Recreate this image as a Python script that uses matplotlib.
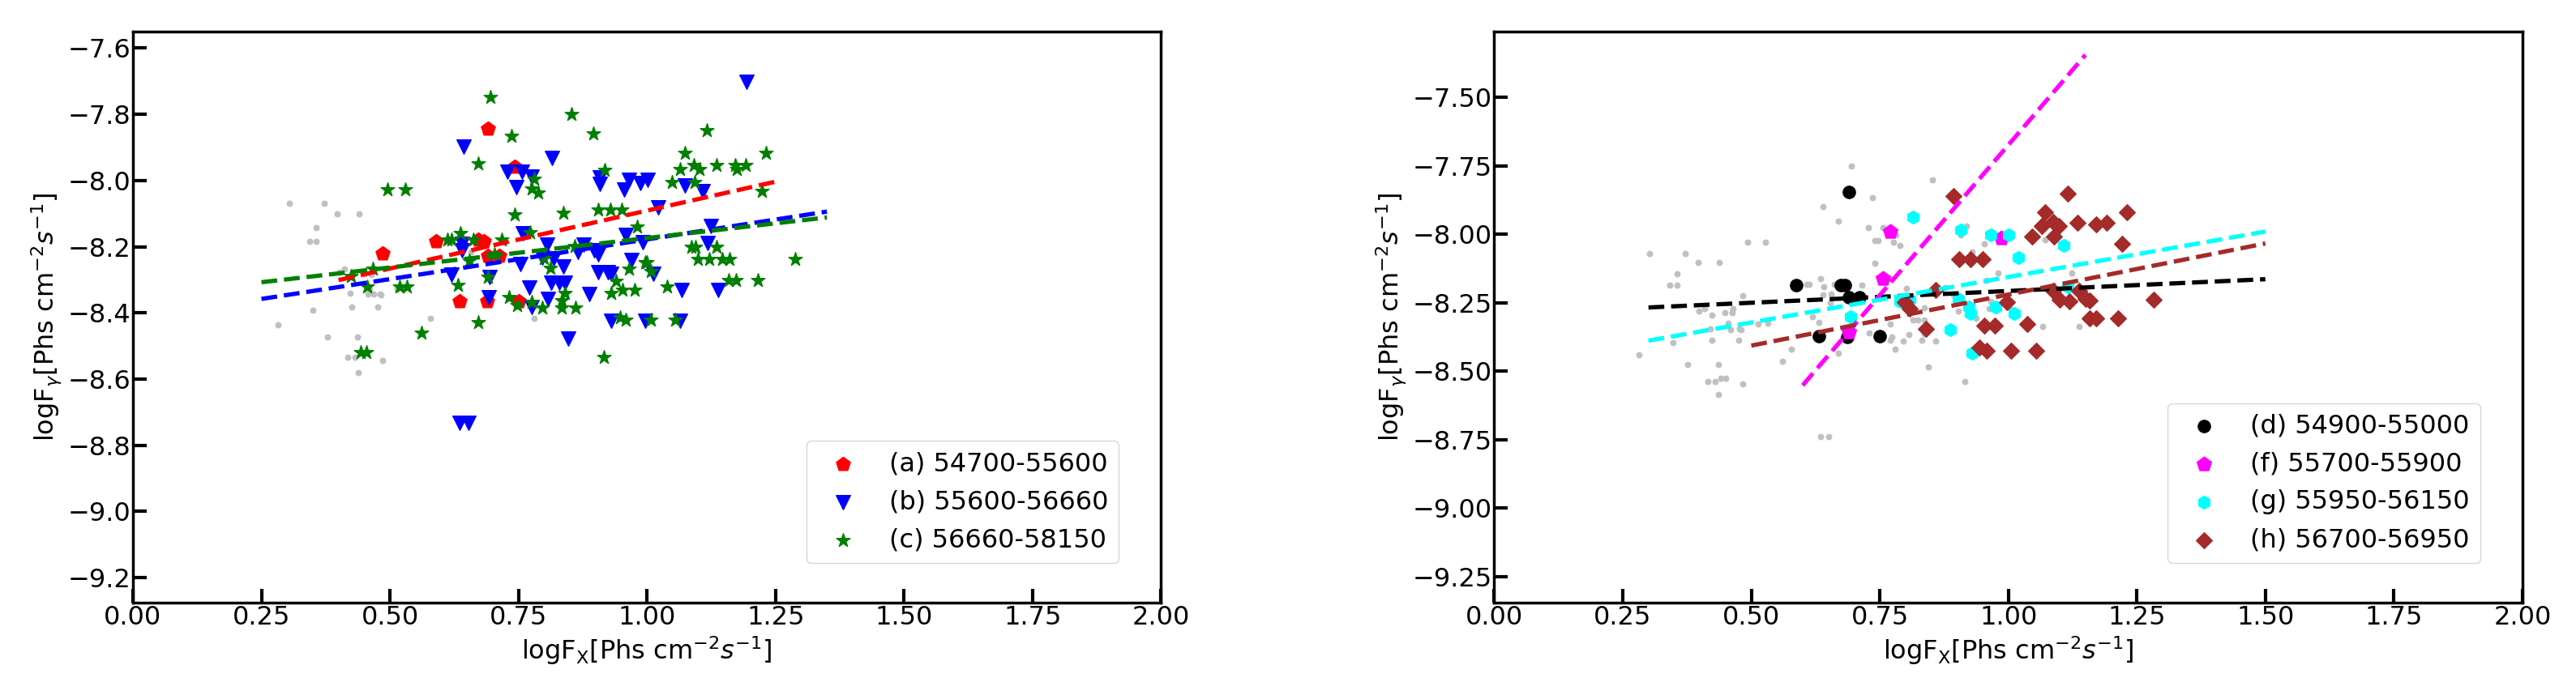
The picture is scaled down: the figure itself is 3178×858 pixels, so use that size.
import matplotlib.pyplot as plt
import numpy as np

# ---------------- left panel ----------------
# grey background points
grey_l_x = [0.304, 0.372, 0.398, 0.440, 0.357, 0.344, 0.356, 0.402, 0.411, 0.451, 0.463, 0.423,
            0.457, 0.468, 0.481, 0.483, 0.460, 0.514, 0.350, 0.425, 0.476, 0.283, 0.579, 0.378,
            0.437, 0.418, 0.432, 0.486, 0.438, 0.657, 0.781]
grey_l_y = [-8.069, -8.069, -8.102, -8.102, -8.142, -8.184, -8.184, -8.277, -8.267, -8.282, -8.284, -8.341,
            -8.343, -8.343, -8.343, -8.345, -8.328, -8.328, -8.392, -8.383, -8.383, -8.437, -8.417, -8.472,
            -8.472, -8.534, -8.534, -8.544, -8.581, -8.216, -8.416]

# (a) 54700-55600
a_x = [0.486, 0.589, 0.671, 0.682, 0.690, 0.713, 0.635, 0.689, 0.750, 0.691, 0.742]
a_y = [-8.222, -8.183, -8.179, -8.183, -8.228, -8.228, -8.366, -8.366, -8.366, -7.843, -7.960]

# (b) 55600-56660
b_x = [0.643, 0.815, 0.728, 0.757, 0.775, 0.746, 0.908, 0.908, 0.965, 0.987, 1.001, 0.955,
       1.073, 1.108, 1.194, 1.021, 1.125, 1.118, 0.992, 1.012, 1.068, 1.139, 0.997, 1.065,
       0.758, 0.805, 0.876, 0.866, 0.897, 0.905, 0.958, 0.970, 0.797, 0.818, 0.753, 0.837,
       0.640, 0.640, 0.619, 0.694, 0.905, 0.924, 0.931, 0.813, 0.829, 0.840, 0.771, 0.887,
       0.692, 0.808, 0.776, 0.931, 0.846, 0.635, 0.652]
b_y = [-7.897, -7.933, -7.974, -7.974, -7.988, -8.020, -7.990, -8.010, -7.999, -8.008, -7.998, -8.028,
       -8.016, -8.033, -7.701, -8.080, -8.137, -8.189, -8.187, -8.281, -8.332, -8.332, -8.423, -8.423,
       -8.159, -8.194, -8.194, -8.216, -8.210, -8.224, -8.164, -8.240, -8.232, -8.236, -8.252, -8.260,
       -8.191, -8.211, -8.285, -8.293, -8.277, -8.277, -8.281, -8.309, -8.309, -8.309, -8.324, -8.343,
       -8.354, -8.359, -8.382, -8.423, -8.478, -8.732, -8.732]

# (c) 56660-58150
c_x = [0.495, 0.530, 0.611, 0.620, 0.466, 0.424, 0.456, 0.519, 0.533, 0.561, 0.443, 0.454,
       0.696, 0.853, 0.895, 0.737, 0.671, 0.918, 0.781, 0.776, 0.789, 0.743, 0.838, 0.905,
       0.928, 0.950, 0.981, 0.637, 0.663, 0.717, 0.773, 0.859, 0.703, 0.655, 0.799, 0.812,
       0.997, 0.965, 0.691, 0.632, 0.939, 0.930, 0.952, 0.976, 0.841, 0.732, 0.748, 0.776,
       0.796, 0.834, 0.861, 0.834, 0.947, 0.959, 0.671, 0.916,
       1.117, 1.073, 1.232, 1.065, 1.091, 1.102, 1.136, 1.172, 1.174, 1.192, 1.049, 1.092,
       1.224, 1.087, 1.094, 1.136, 1.099, 1.121, 1.147, 1.160, 1.288, 1.000, 1.008, 1.039,
       1.159, 1.173, 1.215, 1.008, 1.055]
c_y = [-8.027, -8.027, -8.179, -8.180, -8.268, -8.289, -8.321, -8.321, -8.321, -8.461, -8.519, -8.519,
       -7.748, -7.799, -7.858, -7.866, -7.950, -7.968, -7.996, -8.024, -8.037, -8.103, -8.098, -8.088,
       -8.088, -8.088, -8.140, -8.159, -8.179, -8.180, -8.156, -8.199, -8.224, -8.242, -8.236, -8.264,
       -8.248, -8.267, -8.291, -8.317, -8.305, -8.341, -8.332, -8.332, -8.341, -8.354, -8.378, -8.368,
       -8.386, -8.386, -8.386, -8.362, -8.413, -8.421, -8.429, -8.533,
       -7.848, -7.917, -7.917, -7.965, -7.953, -7.967, -7.954, -7.953, -7.967, -7.953, -8.006, -8.006,
       -8.033, -8.202, -8.202, -8.202, -8.238, -8.238, -8.238, -8.238, -8.238, -8.248, -8.275, -8.321,
       -8.301, -8.301, -8.301, -8.421, -8.421]

# linear fits for a, b, c: slope, intercept, x range
fit_l_slope = [0.350, 0.240, 0.178]
fit_l_icpt = [-8.441, -8.418, -8.352]
fit_l_xlo = [0.40, 0.25, 0.25]
fit_l_xhi = [1.25, 1.35, 1.35]

# ---------------- right panel ----------------
grey_r_x = [0.694, 0.735, 0.640, 0.669, 0.727, 0.756, 0.740, 0.746, 0.741, 0.493, 0.527, 0.302,
            0.371, 0.396, 0.438, 0.355, 0.342, 0.355, 0.634, 0.608, 0.612, 0.641, 0.661, 0.715,
            0.640, 0.655, 0.702, 0.484, 0.399, 0.410, 0.448, 0.463, 0.465, 0.424, 0.653, 0.619,
            0.631, 0.689, 0.421, 0.455, 0.460, 0.477, 0.481, 0.514, 0.532, 0.348, 0.423, 0.475,
            0.281, 0.578, 0.560, 0.376, 0.436, 0.669, 0.730, 0.745, 0.416, 0.430, 0.441, 0.451,
            0.484, 0.436, 0.634, 0.650,
            0.852, 0.781, 0.776, 0.789, 0.918, 0.907, 0.954, 0.929, 1.072, 0.980, 1.124, 0.958,
            0.771, 0.802, 0.877, 0.893, 0.966, 0.963, 1.005, 0.836, 0.903, 0.929, 0.938, 0.814,
            0.824, 0.837, 0.770, 0.836, 0.832, 0.807, 0.773, 0.771, 0.795, 0.858, 0.780, 1.066,
            1.137, 0.844, 0.915]
grey_r_y = [-7.750, -7.867, -7.899, -7.951, -7.976, -7.976, -8.023, -8.023, -8.107, -8.030, -8.030, -8.071,
            -8.071, -8.104, -8.104, -8.145, -8.186, -8.186, -8.161, -8.184, -8.184, -8.193, -8.183, -8.186,
            -8.221, -8.219, -8.228, -8.223, -8.280, -8.270, -8.285, -8.287, -8.270, -8.295, -8.250, -8.300,
            -8.321, -8.295, -8.346, -8.324, -8.347, -8.344, -8.349, -8.329, -8.324, -8.396, -8.386, -8.386,
            -8.440, -8.420, -8.464, -8.475, -8.475, -8.433, -8.361, -8.382, -8.539, -8.539, -8.525, -8.525,
            -8.546, -8.584, -8.739, -8.739,
            -7.801, -8.001, -8.028, -8.040, -7.971, -8.003, -8.035, -8.065, -8.021, -8.142, -8.142, -8.169,
            -8.161, -8.198, -8.196, -8.221, -8.245, -8.270, -8.275, -8.268, -8.280, -8.282, -8.308, -8.312,
            -8.312, -8.312, -8.329, -8.364, -8.388, -8.366, -8.374, -8.386, -8.390, -8.390, -8.420, -8.337,
            -8.337, -8.484, -8.539]

# (d) 54900-55000
d_x = [0.690, 0.588, 0.674, 0.682, 0.690, 0.711, 0.632, 0.686, 0.750]
d_y = [-7.845, -8.186, -8.186, -8.186, -8.230, -8.230, -8.371, -8.374, -8.372]

# (f) 55700-55900
f_x = [0.756, 0.690, 0.771, 0.987]
f_y = [-8.161, -8.357, -7.989, -8.013]

# (g) 55950-56150
g_x = [0.693, 0.814, 0.908, 0.966, 1.000, 1.107, 1.019, 1.116, 0.790, 0.808, 0.902, 0.924,
       0.926, 0.976, 1.011, 0.887, 0.929]
g_y = [-8.300, -7.936, -7.984, -8.003, -8.003, -8.040, -8.084, -8.193, -8.245, -8.240, -8.235, -8.265,
       -8.290, -8.265, -8.290, -8.349, -8.433]

# (h) 56700-56950
h_x = [0.893, 1.116, 1.072, 1.065, 1.087, 1.099, 1.089, 1.047, 1.134, 1.171, 1.191, 1.231,
       1.222, 0.905, 0.927, 0.950, 0.858, 0.798, 0.808, 0.998, 1.087, 1.100, 1.118, 1.137,
       1.150, 1.158, 0.839, 0.953, 0.974, 1.037, 1.158, 1.171, 1.213, 0.944, 0.958, 1.006,
       1.054, 1.283]
h_y = [-7.860, -7.850, -7.920, -7.969, -7.954, -7.969, -8.008, -8.008, -7.957, -7.964, -7.957, -7.920,
       -8.035, -8.090, -8.090, -8.090, -8.204, -8.248, -8.270, -8.248, -8.206, -8.240, -8.245, -8.206,
       -8.235, -8.242, -8.344, -8.334, -8.334, -8.327, -8.306, -8.306, -8.306, -8.413, -8.426, -8.426,
       -8.426, -8.240]

# linear fits for d, f, g, h
fit_r_slope = [0.086, 2.194, 0.332, 0.373]
fit_r_icpt = [-8.293, -9.868, -8.488, -8.593]
fit_r_xlo = [0.30, 0.60, 0.30, 0.50]
fit_r_xhi = [1.50, 1.15, 1.50, 1.50]

FS = 23

fig, (ax1, ax2) = plt.subplots(1, 2, figsize=(31.78, 8.58), dpi=100)
plt.subplots_adjust(left=0.0516, right=0.9792, bottom=0.1329, top=0.9545, wspace=0.324)

# left panel
ax1.scatter(grey_l_x, grey_l_y, s=22, color='silver')
ax1.scatter(a_x, a_y, s=170, marker='p', color='red', label='(a) 54700-55600')
ax1.scatter(b_x, b_y, s=160, marker='v', color='blue', label='(b) 55600-56660')
ax1.scatter(c_x, c_y, s=160, marker='*', color='green', label='(c) 56660-58150')
for m, b, lo, hi, col in zip(fit_l_slope, fit_l_icpt, fit_l_xlo, fit_l_xhi, ['red', 'blue', 'green']):
    xx = np.linspace(lo, hi, 50)
    ax1.plot(xx, m * xx + b, '--', color=col, lw=3.8)
ax1.set_xlim(0, 2)
ax1.set_ylim(-9.276, -7.55)

# right panel
ax2.scatter(grey_r_x, grey_r_y, s=22, color='silver')
ax2.scatter(d_x, d_y, s=120, marker='o', color='black', label='(d) 54900-55000')
ax2.scatter(f_x, f_y, s=180, marker='p', color='magenta', label='(f) 55700-55900')
ax2.scatter(g_x, g_y, s=130, marker='h', color='cyan', label='(g) 55950-56150')
ax2.scatter(h_x, h_y, s=100, marker='D', color='brown', label='(h) 56700-56950')
for m, b, lo, hi, col in zip(fit_r_slope, fit_r_icpt, fit_r_xlo, fit_r_xhi,
                             ['black', 'magenta', 'cyan', 'brown']):
    xx = np.linspace(lo, hi, 50)
    ax2.plot(xx, m * xx + b, '--', color=col, lw=3.8)
ax2.set_xlim(0, 2)
ax2.set_ylim(-9.345, -7.26)

for ax in (ax1, ax2):
    ax.set_xlabel(r'logF$_{\rm X}$[Phs cm$^{-2}s^{-1}$]', fontsize=FS)
    ax.set_ylabel(r'logF$_\gamma$[Phs cm$^{-2}s^{-1}$]', fontsize=FS)
    ax.tick_params(direction='in', length=12, width=3, labelsize=FS, pad=2)
    for sp in ax.spines.values():
        sp.set_linewidth(2.5)
    ax.legend(loc='lower right', bbox_to_anchor=(0.959, 0.0695), borderaxespad=0,
              fontsize=FS, scatterpoints=1)

plt.savefig('out.png', dpi=100)
